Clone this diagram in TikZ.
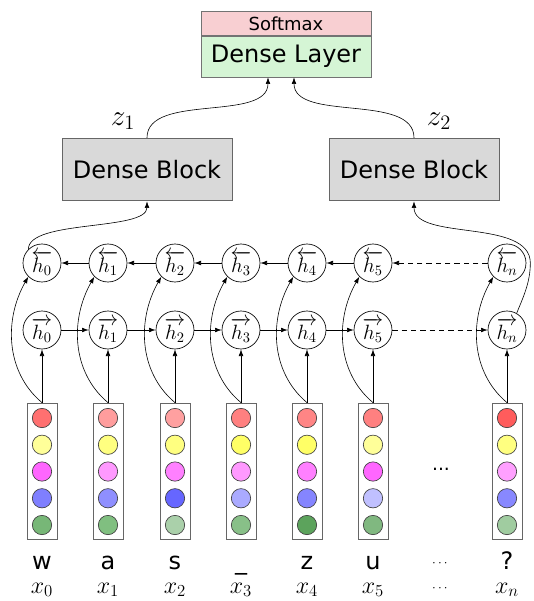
\documentclass[tikz,border=0pt]{standalone}
\usepackage{fix-cm}
\usepackage{amsmath}
\usepackage{fontspec}
\setsansfont{DejaVu Sans}
\usetikzlibrary{arrows.meta}

\definecolor{softfill}{HTML}{F8CFD2}
\definecolor{layerfill}{HTML}{D5F5D5}
\definecolor{blockfill}{HTML}{D9D9D9}

\begin{document}
\begin{tikzpicture}[x=0.75pt,y=0.75pt,yscale=-1,
  hid/.style={circle,draw,fill=white,line width=0.5pt,minimum size=28.5pt,inner sep=0pt,font=\fontsize{15.5}{15.5}\selectfont},
  vecbox/.style={draw=black!60,line width=0.6pt,minimum width=22.5pt,minimum height=102pt,inner sep=0pt},
  dot/.style={circle,draw=black!75,line width=0.5pt,minimum size=14.5pt,inner sep=0pt},
  block/.style={draw=black!60,fill=blockfill,line width=0.6pt,minimum width=127.5pt,minimum height=47pt,font=\sffamily\fontsize{18}{18}\selectfont},
  chr/.style={anchor=base,font=\sffamily\fontsize{18}{18}\selectfont},
  xlab/.style={anchor=base,font=\fontsize{18}{18}\selectfont},
  conn/.style={-{Latex[length=5pt,width=3.5pt]},line width=0.45pt},
]
\useasboundingbox (0,0) rectangle (534,601);

% Output layer
\node[draw=black!55,fill=softfill,minimum width=127.5pt,minimum height=18pt,inner sep=0pt,font=\sffamily\fontsize{13.5}{13.5}\selectfont] (soft) at (286,23.5) {Softmax};
\node[draw=black!55,fill=layerfill,minimum width=127.5pt,minimum height=30.75pt,inner sep=0pt,font=\sffamily\fontsize{18}{18}\selectfont] (dl) at (286,56.5) {Dense Layer};

% Dense blocks
\node[block] (db1) at (147,169.5) {Dense Block};
\node[block] (db2) at (414,169.5) {Dense Block};
\node[font=\fontsize{22}{22}\selectfont] (z1) at (123,121) {$z_1$};
\node[font=\fontsize{22}{22}\selectfont] (z2) at (439,121) {$z_2$};

% Columns: hidden states, embedding vector, character, input label
\foreach \i/\x/\s/\ch/\ca/\cb/\cc/\cd/\ce in {
  0/42/0/w/FF7070/FFFF99/FF66FF/7F7FFF/77B777,
  1/108/1/a/FF9D9D/FFFF80/FF99FF/8F8FFF/80BF80,
  2/175/2/s/FFA0A0/FFFF80/FF80FF/6666FF/AAD0AA,
  3/241/3/\_/FF8080/FFFF66/FF99FF/AAAAFF/88C088,
  4/307/4/z/FF8585/FFFF66/FF80FF/8585FF/5CA35C,
  5/373/5/u/FF8080/FFFF99/FF66FF/C0C0FF/80B880,
  6/507/n/?/FF5C5C/FFFF80/FFA0FF/8888FF/A0CCA0}{
  \node[hid] (b\i) at (\x,263) {$\overleftarrow{h_{\s}}$};
  \node[hid] (f\i) at (\x,330) {$\overrightarrow{h_{\s}}$};
  \node[vecbox] (v\i) at (\x,471) {};
  \foreach \cl [count=\k] in {\ca,\cb,\cc,\cd,\ce}{
    \definecolor{dotcol}{HTML}{\cl}
    \node[dot,fill=dotcol] (d\i\k) at (\x,{418+26.75*(\k-1)}) {};
  }
  \node[chr] (c\i) at (\x,569) {\ch};
  \node[xlab] (x\i) at (\x,593) {$x_{\s}$};
}

% Gaps
\node[font=\sffamily\fontsize{14}{14}\selectfont] (gap) at (441,469) {...};
\node[font=\fontsize{10}{10}\selectfont] (cgap) at (441,564) {$\cdots$};
\node[font=\fontsize{10}{10}\selectfont] (xgap) at (441,589) {$\cdots$};

% Inputs into both directions
\foreach \i in {0,...,6}{
  \draw[conn] (v\i.north) -- (f\i.south);
  \draw[conn] (v\i.north) .. controls +(-37,-31) and +(-24,42) .. (b\i.south west);
}

% Recurrences
\foreach \i/\j in {0/1,1/2,2/3,3/4,4/5}{
  \draw[conn] (f\i) -- (f\j);
  \draw[conn] (b\j) -- (b\i);
}
\draw[conn,dash pattern=on 4pt off 3pt] (f5) -- (f6);
\draw[conn,dash pattern=on 4pt off 3pt] (b6) -- (b5);

% Final states to dense blocks
\draw[conn] (b0.north west) .. controls +(0,-30) and +(0,30) .. (db1.south);
\draw[conn] (f6.60) .. controls +(6,-15) and +(0,20) .. ([xshift=3pt]b6.east)
  .. controls +(0,-45) and +(0,40) .. (db2.south);

% Dense blocks to dense layer
\draw[conn] (db1.north) .. controls +(0,-45) and +(0,45) .. ([xshift=-13.5pt]dl.south);
\draw[conn] (db2.north) .. controls +(0,-45) and +(0,45) .. ([xshift=6pt]dl.south);

\end{tikzpicture}
\end{document}
